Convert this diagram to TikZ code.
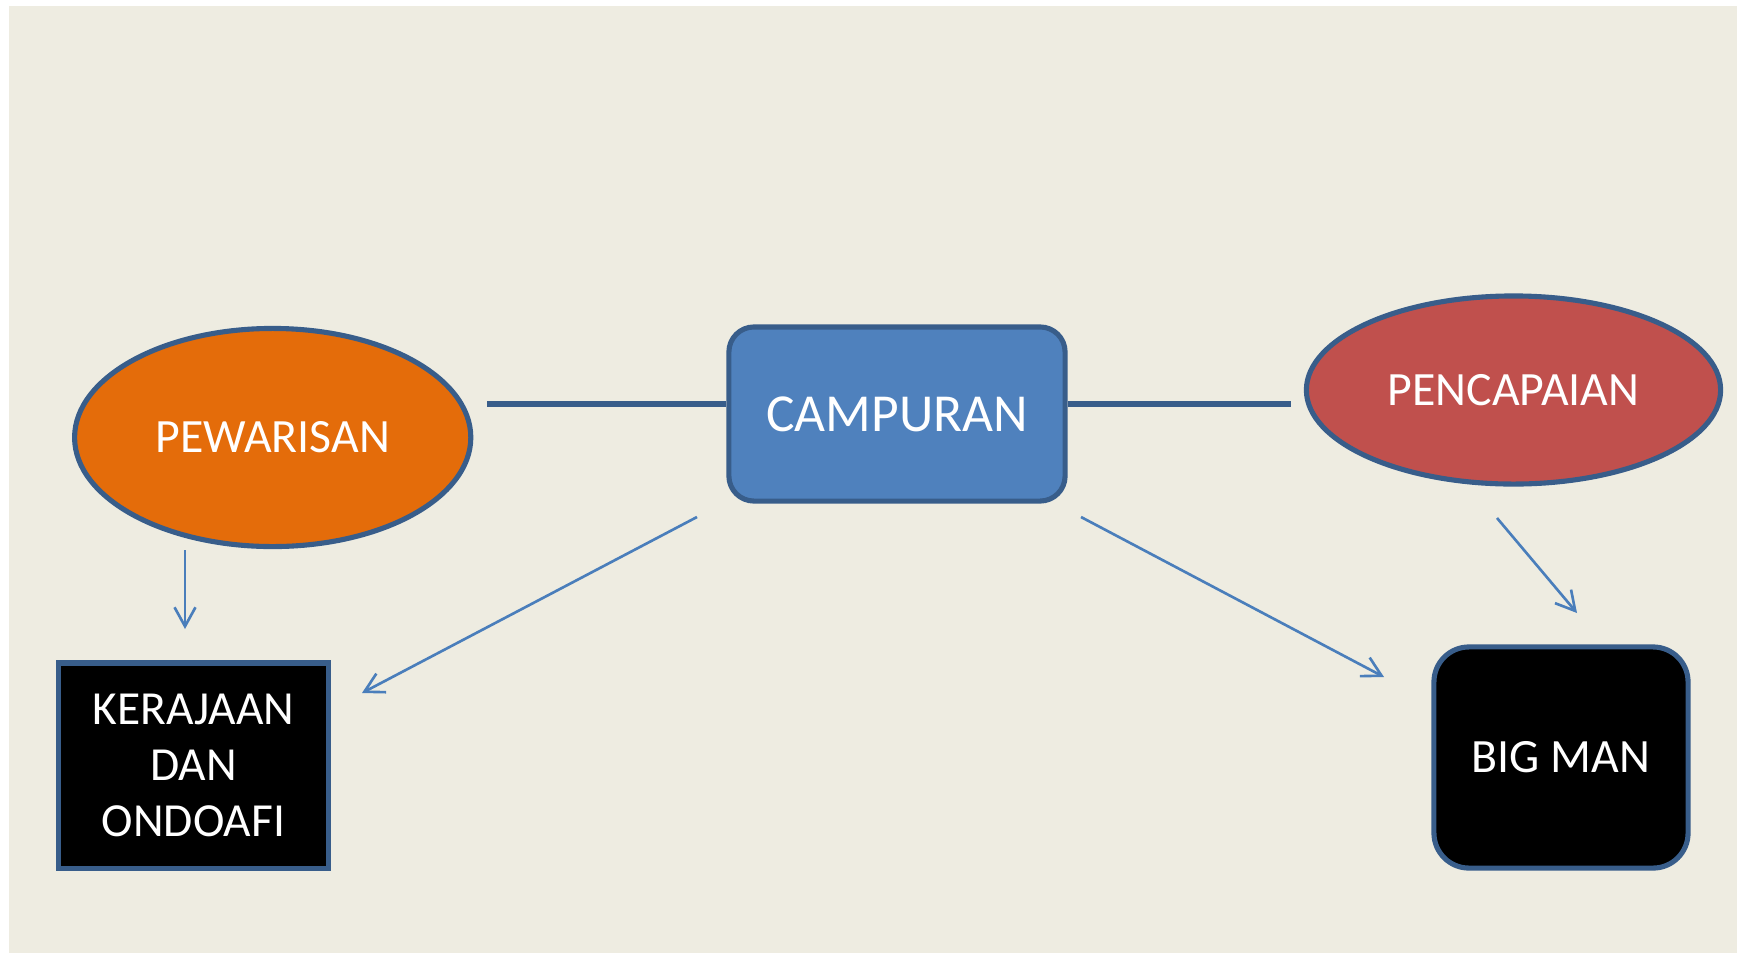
\documentclass[tikz,border=0pt]{standalone}
\usepackage{fontspec}
\setmainfont{Carlito}
\usetikzlibrary{shapes.geometric,arrows.meta}
\definecolor{bgc}{HTML}{EEECE1}
\definecolor{edgec}{HTML}{385D8A}
\definecolor{orangec}{HTML}{E46C0A}
\definecolor{bluec}{HTML}{4F81BD}
\definecolor{redc}{HTML}{C0504D}
\definecolor{arrc}{HTML}{4A7EBB}
\tikzset{
  shapebase/.style={draw=edgec, line width=1.45pt, text=white, inner sep=0pt},
  ovalnode/.style={shapebase, ellipse, font=\fontsize{13.6}{16}\selectfont},
  thickline/.style={draw=edgec, line width=1.9pt},
  thinarrow/.style={draw=arrc, line width=0.75pt, -{Straight Barb[length=1.9mm,width=2.1mm,line width=0.75pt]}}
}
\begin{document}
\begin{tikzpicture}[x=0.01cm,y=-0.01cm]
\useasboundingbox (0,0) rectangle (1745,954);
\fill[white] (0,0) rectangle (1745,954);
\fill[bgc] (9,6) rectangle (1737,953);

\node[ovalnode, fill=orangec, minimum width=3.96cm, minimum height=2.18cm] (pew) at (272.7,437.5) {PEWARISAN};
\node[ovalnode, fill=redc, minimum width=4.14cm, minimum height=1.88cm] (pen) at (1513.5,390) {PENCAPAIAN};
\node[shapebase, fill=bluec, rounded corners=0.25cm, minimum width=3.36cm, minimum height=1.74cm, font=\fontsize{15.2}{18}\selectfont] (camp) at (897,414) {CAMPURAN};
\node[shapebase, fill=black, minimum width=2.69cm, minimum height=2.05cm, align=center, font=\fontsize{13.5}{15.9}\selectfont] (ker) at (193.5,765.5) {KERAJAAN\\DAN\\ONDOAFI};
\node[shapebase, fill=black, rounded corners=0.35cm, minimum width=2.54cm, minimum height=2.21cm, font=\fontsize{13.6}{16}\selectfont] (big) at (1561,757.5) {BIG MAN};

\coordinate (l1) at (487,404);
\coordinate (r1) at (1291,404);
\draw[thickline] (l1) -- (l1 -| camp.west);
\draw[thickline] (r1 -| camp.east) -- (r1);

\coordinate (a1s) at (185,550);
\coordinate (a1e) at (185,629);
\coordinate (a2s) at (697,517);
\coordinate (a2e) at (362,693);
\coordinate (a3s) at (1081,517);
\coordinate (a3e) at (1384,677);
\coordinate (a4s) at (1497,518);
\coordinate (a4e) at (1577,613);
\draw[thinarrow] (a1s) -- (a1e);
\draw[thinarrow] (a2s) -- (a2e);
\draw[thinarrow] (a3s) -- (a3e);
\draw[thinarrow] (a4s) -- (a4e);
\end{tikzpicture}
\end{document}
